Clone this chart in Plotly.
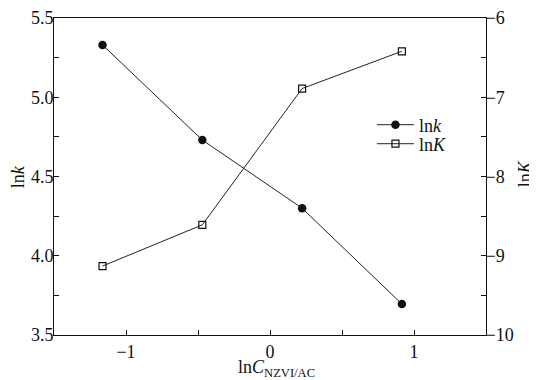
import plotly.graph_objects as go

x_vals = [-1.163, -0.470, 0.223, 0.916]
lnk_vals = [5.33, 4.73, 4.30, 3.695]
lnK_vals = [-9.13, -8.61, -6.89, -6.42]

x_title = "ln<i>C</i><sub>NZVI/AC</sub>"
y_title = "ln<i>k</i>"
y2_title = "ln<i>K</i>"

font_family = "Liberation Serif"

fig = go.Figure()
fig.add_trace(go.Scatter(
    x=x_vals, y=lnk_vals, name="ln<i>k</i>", mode="lines+markers",
    line=dict(color="#222222", width=1),
    marker=dict(symbol="circle", size=8.5, color="#111111"),
    yaxis="y", legend="legend",
))
fig.add_trace(go.Scatter(
    x=x_vals, y=lnK_vals, name="ln<i>K</i>", mode="lines+markers",
    line=dict(color="#222222", width=1),
    marker=dict(symbol="square-open", size=7, color="#111111", line=dict(width=1.2)),
    yaxis="y2", legend="legend2",
))

leg_common = dict(xanchor="left", yanchor="middle", bgcolor="rgba(0,0,0,0)",
                  font=dict(size=18), tracegroupgap=0, itemwidth=37)

# page body has an 8px margin; the figure is sized/offset to compensate
fig.update_layout(
    width=529, height=372,
    margin=dict(l=46, r=51, t=10, b=45),
    paper_bgcolor="white", plot_bgcolor="white",
    font=dict(family=font_family, size=18, color="#111111"),
    showlegend=True,
    legend=dict(x=0.736, y=0.6625, **leg_common),
    legend2=dict(x=0.736, y=0.6025, **leg_common),
    xaxis=dict(
        range=[-1.5, 1.5], dtick=1, tick0=0, ticks="inside", ticklen=5,
        showline=True, linecolor="#111111", linewidth=1, mirror=True,
        showgrid=False, zeroline=False, automargin=False,
        minor=dict(dtick=0.5, ticks="inside", ticklen=5, tickcolor="#111111"),
        tickcolor="#111111",
    ),
    yaxis=dict(
        range=[3.5, 5.5], dtick=0.5, tick0=3.5, tickformat=".1f",
        ticks="inside", ticklen=5, tickcolor="#111111",
        showline=True, linecolor="#111111", linewidth=1,
        showgrid=False, zeroline=False, automargin=False,
        ticklabelstandoff=-4,
        minor=dict(dtick=0.25, ticks="inside", ticklen=5, tickcolor="#111111"),
    ),
    yaxis2=dict(
        range=[-10, -6], dtick=1, overlaying="y", side="right",
        ticks="inside", ticklen=5, tickcolor="#111111",
        showline=True, linecolor="#111111", linewidth=1,
        showgrid=False, zeroline=False, automargin=False,
        ticklabelstandoff=-5,
        minor=dict(dtick=0.5, ticks="inside", ticklen=5, tickcolor="#111111"),
    ),
)

fig.add_annotation(text=x_title, xref="paper", yref="paper", x=0.516, y=-0.062,
                   xanchor="center", yanchor="top", showarrow=False,
                   font=dict(size=18))
fig.add_annotation(text=y_title, xref="paper", yref="paper", x=-0.084, y=0.5,
                   xanchor="center", yanchor="middle", textangle=-90, showarrow=False,
                   font=dict(size=18))
fig.add_annotation(text=y2_title, xref="paper", yref="paper", x=1.09, y=0.51,
                   xanchor="center", yanchor="middle", textangle=-90, showarrow=False,
                   font=dict(size=18))

fig.write_html("out.html")
